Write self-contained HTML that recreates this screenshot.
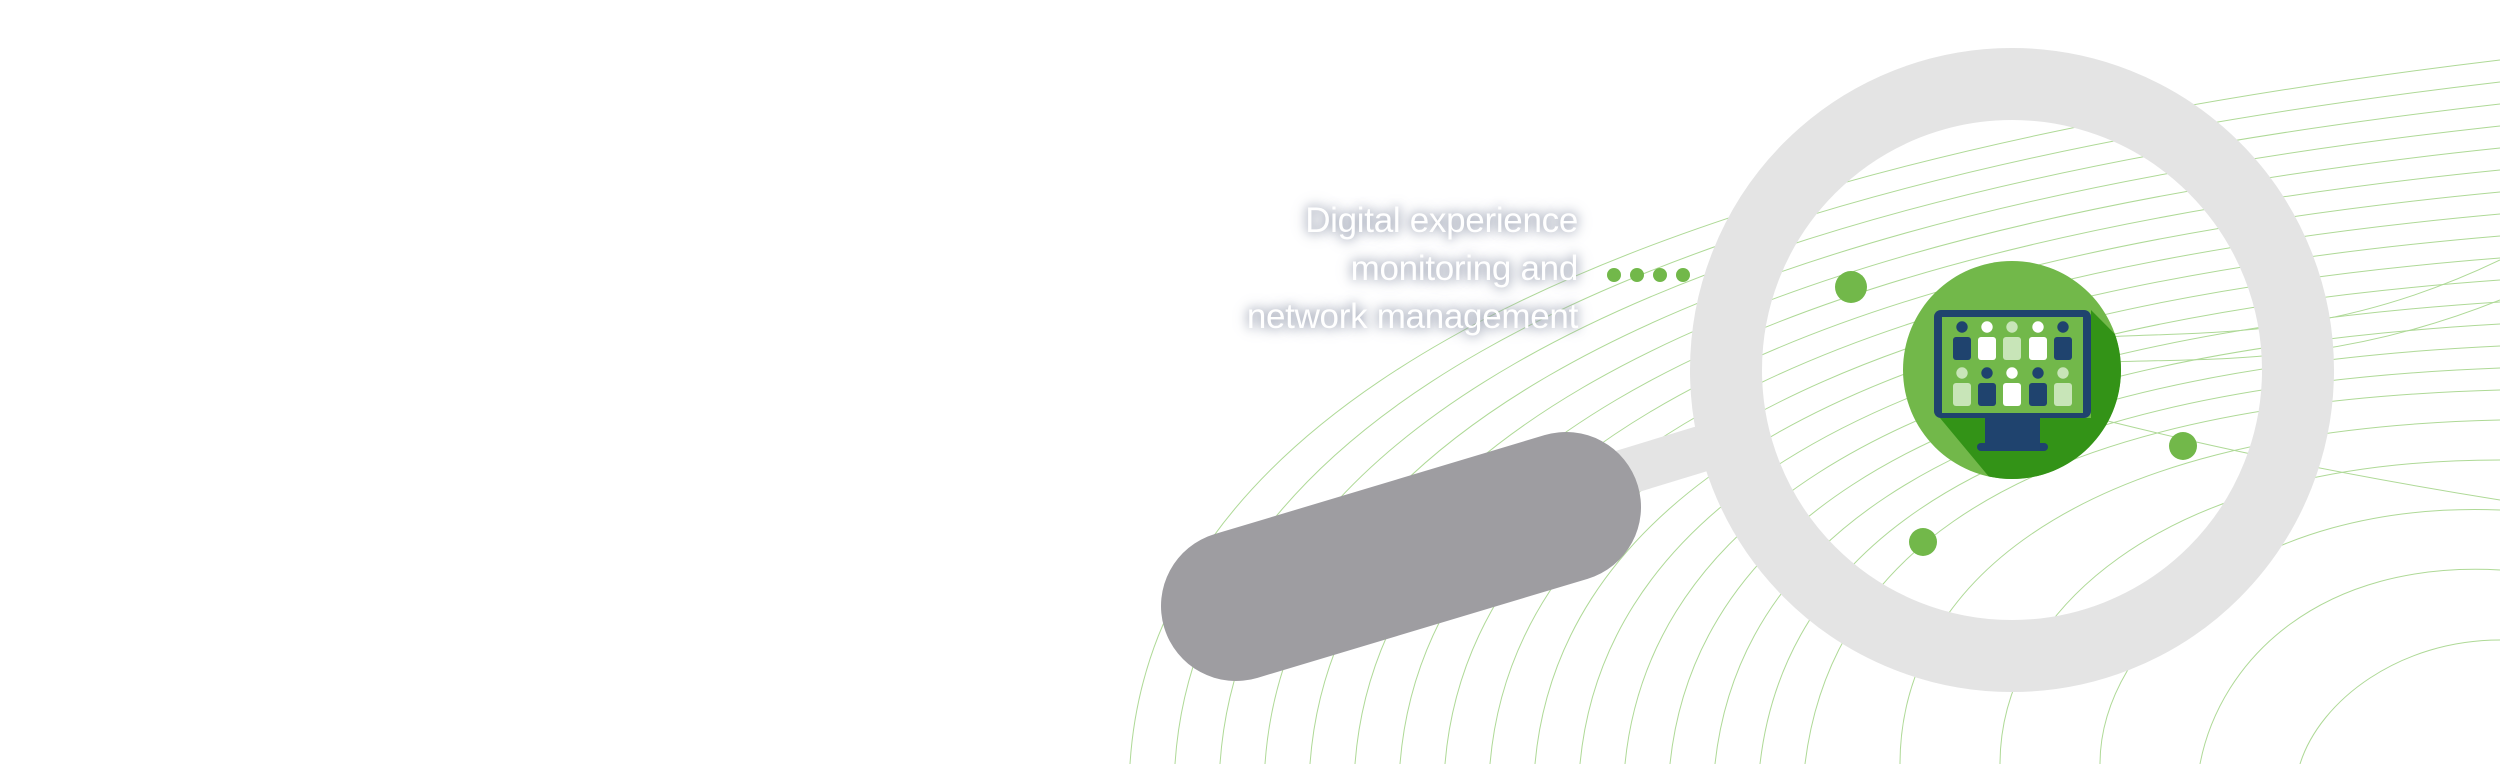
<!DOCTYPE html>
<html><head><meta charset="utf-8"><style>
html,body{margin:0;padding:0;background:#fff;}
body{width:2500px;height:764px;overflow:hidden;position:relative;}
.t{position:absolute;right:922px;font-family:"Liberation Sans",sans-serif;font-size:35px;color:#fff;text-shadow:0 0 10px #8e95a8,0 0 18px #b0b6c3;white-space:nowrap;text-align:right;letter-spacing:-0.3px;}
</style></head><body>
<svg width="2500" height="764" style="position:absolute;left:0;top:0">
<g fill="none" stroke="#8cc96a" stroke-width="1" opacity="0.7">
<path d="M1130 764 C1150 450 1500 180 2500 60"/>
<path d="M1175 764 C1195 460 1530 195 2500 82"/>
<path d="M1220 764 C1240 470 1560 210 2500 104"/>
<path d="M1265 764 C1285 480 1590 225 2500 126"/>
<path d="M1310 764 C1330 490 1620 240 2500 148"/>
<path d="M1355 764 C1375 500 1650 255 2500 170"/>
<path d="M1400 764 C1420 510 1680 270 2500 192"/>
<path d="M1445 764 C1465 520 1710 285 2500 214"/>
<path d="M1490 764 C1510 530 1740 300 2500 236"/>
<path d="M1535 764 C1555 540 1770 315 2500 258"/>
<path d="M1580 764 C1600 550 1800 330 2500 280"/>
<path d="M1625 764 C1645 560 1830 345 2500 302"/>
<path d="M1670 764 C1690 570 1860 360 2500 324"/>
<path d="M1715 764 C1735 580 1890 375 2500 346"/>
<path d="M1760 764 C1780 590 1920 390 2500 368"/>
<path d="M1805 764 C1825 600 1950 405 2500 390"/>
<path d="M1900 764 C1900 600 2050 430 2500 420"/>
<path d="M2000 764 C2000 620 2150 460 2500 460"/>
<path d="M2100 764 C2100 640 2250 500 2500 510"/>
<path d="M2200 764 C2220 660 2320 560 2500 570"/>
<path d="M2300 764 C2320 700 2400 640 2500 640"/>
<path d="M1950 390 C2100 330 2250 400 2500 300"/>
<path d="M1950 370 C2100 300 2250 380 2500 260"/>
<path d="M1950 380 C2100 420 2250 460 2500 500"/>
</g>
<rect x="1580" y="440" width="150" height="46" fill="#e4e4e4" transform="rotate(-17 1655 463)"/>
<line x1="1236" y1="606" x2="1566" y2="507" stroke="#9e9da1" stroke-width="150" stroke-linecap="round"/>
<circle cx="2012" cy="370" r="286" fill="none" stroke="#e4e4e4" stroke-width="72"/>
<g fill="#72b84a">
<circle cx="1614" cy="275" r="7"/><circle cx="1637" cy="275" r="7"/><circle cx="1660" cy="275" r="7"/><circle cx="1683" cy="275" r="7"/>
<circle cx="1851" cy="287" r="16"/><circle cx="2183" cy="446" r="14"/><circle cx="1923" cy="542" r="14"/>
</g>
<defs><clipPath id="c"><circle cx="2012" cy="370" r="109"/></clipPath></defs>
<circle cx="2012" cy="370" r="109" fill="#72b84a"/>
<polygon clip-path="url(#c)" points="1940,418 2091,418 2091,310 2200,420 2050,560 2000,490" fill="#339317"/>
<rect x="1934" y="310" width="157" height="108" rx="7" fill="#1f436e"/>
<rect x="1942" y="317" width="141" height="96" fill="#72b84a"/>
<rect x="1985" y="416" width="55" height="29" fill="#1f436e"/>
<rect x="1977" y="443" width="71" height="8" rx="4" fill="#1f436e"/>
<g>
<circle cx="1962" cy="327" r="5.7" fill="#1f436e"/><rect x="1953" y="337" width="18" height="23" rx="3" fill="#1f436e"/>
<circle cx="1987" cy="327" r="5.7" fill="#fff"/><rect x="1978" y="337" width="18" height="23" rx="3" fill="#fff"/>
<circle cx="2012" cy="327" r="5.7" fill="#c8e5b8"/><rect x="2003" y="337" width="18" height="23" rx="3" fill="#c8e5b8"/>
<circle cx="2038" cy="327" r="5.7" fill="#fff"/><rect x="2029" y="337" width="18" height="23" rx="3" fill="#fff"/>
<circle cx="2063" cy="327" r="5.7" fill="#1f436e"/><rect x="2054" y="337" width="18" height="23" rx="3" fill="#1f436e"/>
<circle cx="1962" cy="373" r="5.7" fill="#c8e5b8"/><rect x="1953" y="383" width="18" height="23" rx="3" fill="#c8e5b8"/>
<circle cx="1987" cy="373" r="5.7" fill="#1f436e"/><rect x="1978" y="383" width="18" height="23" rx="3" fill="#1f436e"/>
<circle cx="2012" cy="373" r="5.7" fill="#fff"/><rect x="2003" y="383" width="18" height="23" rx="3" fill="#fff"/>
<circle cx="2038" cy="373" r="5.7" fill="#1f436e"/><rect x="2029" y="383" width="18" height="23" rx="3" fill="#1f436e"/>
<circle cx="2063" cy="373" r="5.7" fill="#c8e5b8"/><rect x="2054" y="383" width="18" height="23" rx="3" fill="#c8e5b8"/>
</g>
</svg>
<div class="t" style="top:201px">Digital experience</div>
<div class="t" style="top:249px">monitoring and</div>
<div class="t" style="top:297px">network management</div>
</body></html>
